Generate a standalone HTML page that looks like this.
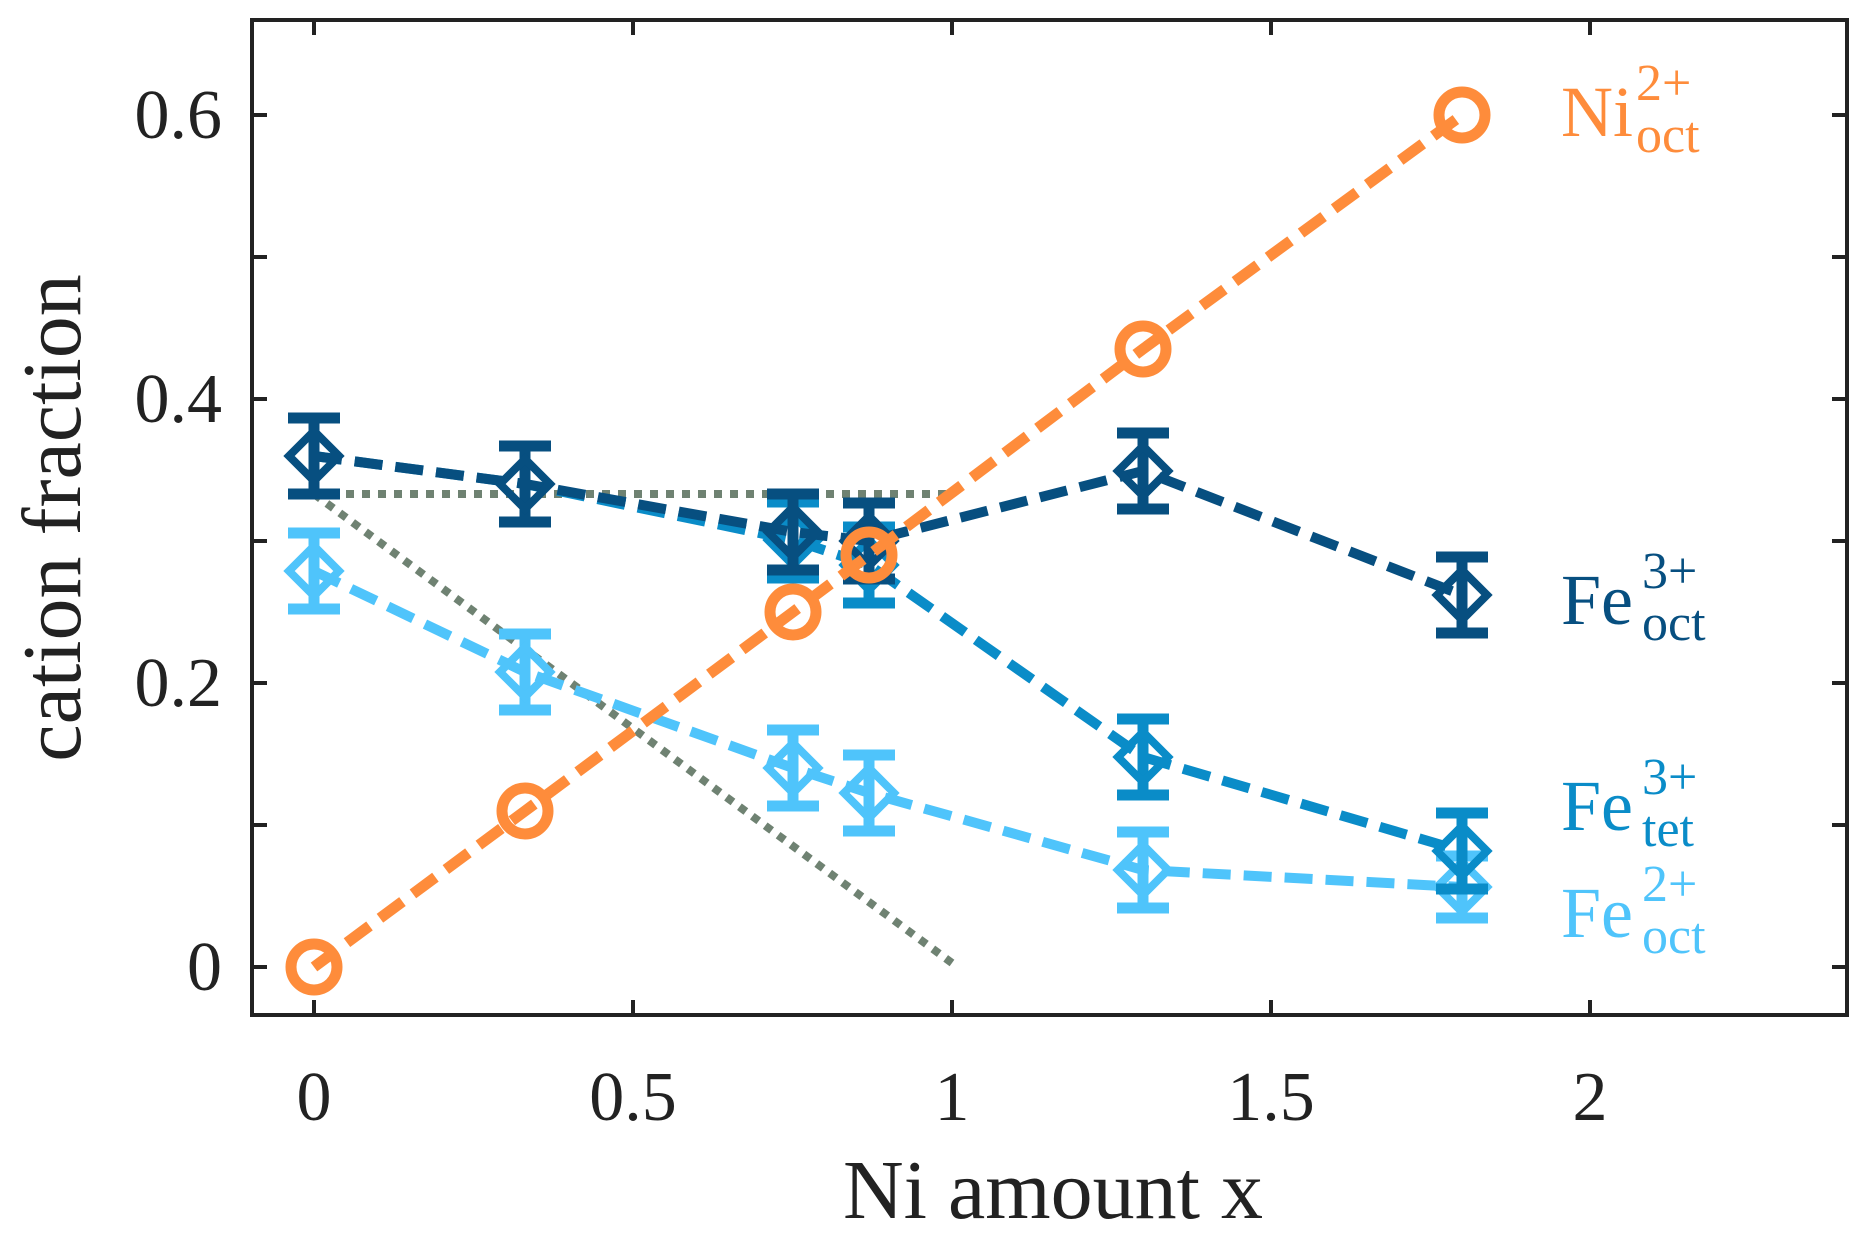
<!DOCTYPE html>
<html><head><meta charset="utf-8"><style>html,body{margin:0;padding:0;background:#fff}</style></head>
<body>
<svg width="1866" height="1241" viewBox="0 0 1866 1241" xmlns="http://www.w3.org/2000/svg" font-family="'Liberation Serif', serif">
<rect width="1866" height="1241" fill="#fff"/>
<g stroke="#6f8272" stroke-width="8" fill="none" stroke-dasharray="8 8">
<line x1="314" y1="494" x2="952" y2="494"/>
<line x1="314" y1="494" x2="952" y2="963"/>
</g>
<g stroke="#4fc4fb" stroke-width="10" fill="none">
<polyline stroke-dasharray="28 13" points="314,571 525,672 793,768 869,793 1143,870 1462,887"/>
<g stroke-width="11">
<path d="M314,533V609M288,533H340M288,609H340"/>
<path d="M525,634V710M499,634H551M499,710H551"/>
<path d="M793,730V806M767,730H819M767,806H819"/>
<path d="M869,755V831M843,755H895M843,831H895"/>
<path d="M1143,832V908M1117,832H1169M1117,908H1169"/>
<path d="M1462,856V918M1436,856H1488M1436,918H1488"/>
</g>
<g stroke-width="8">
<path d="M314,546L339,571L314,596L289,571Z"/>
<path d="M525,647L550,672L525,697L500,672Z"/>
<path d="M793,743L818,768L793,793L768,768Z"/>
<path d="M869,768L894,793L869,818L844,793Z"/>
<path d="M1143,845L1168,870L1143,895L1118,870Z"/>
<path d="M1462,862L1487,887L1462,912L1437,887Z"/>
</g>
</g>
<g stroke="#0a8cc8" stroke-width="10" fill="none">
<polyline stroke-dasharray="28 13" points="314,456 525,484 793,540 869,565 1143,757 1462,851"/>
<g stroke-width="11">
<path d="M793,502V578M767,502H819M767,578H819"/>
<path d="M869,527V603M843,527H895M843,603H895"/>
<path d="M1143,719V795M1117,719H1169M1117,795H1169"/>
<path d="M1462,813V889M1436,813H1488M1436,889H1488"/>
</g>
<g stroke-width="8">
<path d="M793,515L818,540L793,565L768,540Z"/>
<path d="M869,540L894,565L869,590L844,565Z"/>
<path d="M1143,732L1168,757L1143,782L1118,757Z"/>
<path d="M1462,826L1487,851L1462,876L1437,851Z"/>
</g>
</g>
<g stroke="#074f80" stroke-width="10" fill="none">
<polyline stroke-dasharray="28 13" points="314,456 525,484 793,532 869,541 1143,471 1462,595"/>
<g stroke-width="11">
<path d="M314,418V494M288,418H340M288,494H340"/>
<path d="M525,446V522M499,446H551M499,522H551"/>
<path d="M793,494V570M767,494H819M767,570H819"/>
<path d="M869,503V579M843,503H895M843,579H895"/>
<path d="M1143,433V509M1117,433H1169M1117,509H1169"/>
<path d="M1462,557V633M1436,557H1488M1436,633H1488"/>
</g>
<g stroke-width="8">
<path d="M314,431L339,456L314,481L289,456Z"/>
<path d="M525,459L550,484L525,509L500,484Z"/>
<path d="M793,507L818,532L793,557L768,532Z"/>
<path d="M869,516L894,541L869,566L844,541Z"/>
<path d="M1143,446L1168,471L1143,496L1118,471Z"/>
<path d="M1462,570L1487,595L1462,620L1437,595Z"/>
</g>
</g>
<g stroke="#fe8c3b" stroke-width="11" fill="none">
<polyline stroke-dasharray="28 13" points="314,967 525,811 793,612 869,555 1143,349 1462,115"/>
<circle cx="314" cy="967" r="23"/>
<circle cx="525" cy="811" r="23"/>
<circle cx="793" cy="612" r="23"/>
<circle cx="869" cy="555" r="23"/>
<circle cx="1143" cy="349" r="23"/>
<circle cx="1462" cy="115" r="23"/>
</g>
<g stroke="#222" stroke-width="4" fill="none">
<rect x="252" y="20" width="1595" height="995"/>
<path d="M314,1015v-15M633,1015v-15M952,1015v-15M1271,1015v-15M1590,1015v-15
M314,20v15M633,20v15M952,20v15M1271,20v15M1590,20v15
M252,967h15M252,825h15M252,683h15M252,541h15M252,399h15M252,257h15M252,115h15
M1847,967h-15M1847,825h-15M1847,683h-15M1847,541h-15M1847,399h-15M1847,257h-15M1847,115h-15"/>
</g>
<g fill="#222" font-size="70">
<text x="222" y="990" text-anchor="end">0</text>
<text x="222" y="706" text-anchor="end">0.2</text>
<text x="222" y="422" text-anchor="end">0.4</text>
<text x="222" y="138" text-anchor="end">0.6</text>
<text x="314" y="1120" text-anchor="middle">0</text>
<text x="633" y="1120" text-anchor="middle">0.5</text>
<text x="952" y="1120" text-anchor="middle">1</text>
<text x="1271" y="1120" text-anchor="middle">1.5</text>
<text x="1590" y="1120" text-anchor="middle">2</text>
</g>
<text x="1053" y="1218" text-anchor="middle" font-size="84" fill="#222">Ni amount x</text>
<text transform="translate(80,518) rotate(-90)" text-anchor="middle" font-size="84" fill="#222">cation fraction</text>
<g font-size="72">
<text x="1561" y="136" fill="#fe8c3b">Ni</text><text x="1636" y="100" font-size="52" fill="#fe8c3b">2+</text><text x="1636" y="152" font-size="52" fill="#fe8c3b">oct</text>
<text x="1561" y="624" fill="#074f80">Fe</text><text x="1642" y="588" font-size="52" fill="#074f80">3+</text><text x="1642" y="640" font-size="52" fill="#074f80">oct</text>
<text x="1561" y="830" fill="#0a8cc8">Fe</text><text x="1642" y="794" font-size="52" fill="#0a8cc8">3+</text><text x="1642" y="846" font-size="52" fill="#0a8cc8">tet</text>
<text x="1561" y="937" fill="#4fc4fb">Fe</text><text x="1642" y="901" font-size="52" fill="#4fc4fb">2+</text><text x="1642" y="953" font-size="52" fill="#4fc4fb">oct</text>
</g>
</svg>
</body></html>
